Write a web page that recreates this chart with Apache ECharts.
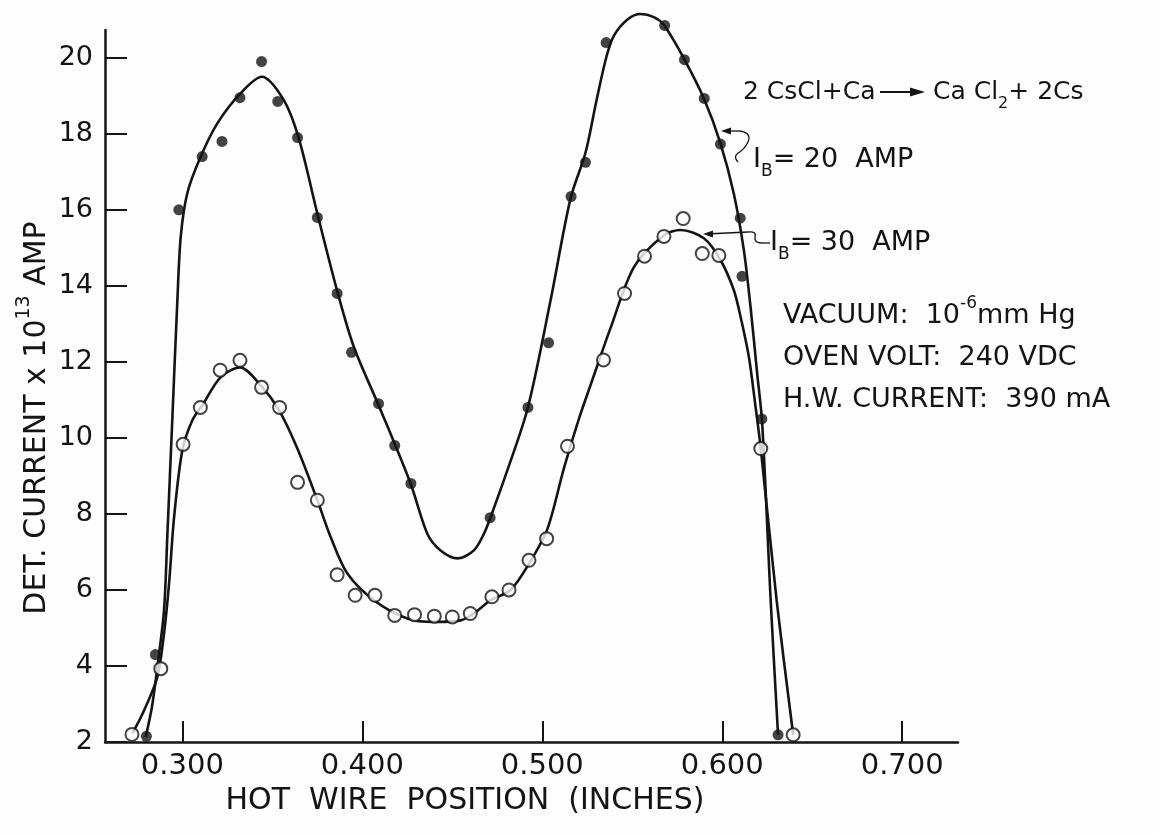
<!DOCTYPE html>
<html><head><meta charset="utf-8">
<script src="https://cdn.jsdelivr.net/npm/echarts@6/dist/echarts.min.js"></script>
<style>html,body{margin:0;padding:0;background:#fdfdfd}#c{width:1159px;height:835px}</style>
</head><body><div id="c"></div>
<script>
// ---- data ----
const xTicks = [0.3, 0.4, 0.5, 0.6, 0.7];
const yTicks = [2, 4, 6, 8, 10, 12, 14, 16, 18, 20];

// I_B = 20 AMP measured points (filled dots)
const dots20 = [[0.280,2.15],[0.285,4.3],[0.298,16.0],[0.311,17.4],[0.322,17.8],[0.332,18.95],[0.344,19.9],[0.353,18.85],[0.364,17.9],[0.375,15.8],[0.386,13.8],[0.394,12.25],[0.409,10.9],[0.418,9.8],[0.427,8.8],[0.471,7.9],[0.492,10.8],[0.5035,12.5],[0.516,16.35],[0.524,17.25],[0.5355,20.4],[0.568,20.85],[0.579,19.95],[0.590,18.93],[0.599,17.73],[0.610,15.78],[0.611,14.25],[0.622,10.5],[0.631,2.19]];

// I_B = 30 AMP measured points (open circles)
const dots30 = [[0.272,2.2],[0.288,3.93],[0.3004,9.83],[0.310,10.8],[0.321,11.78],[0.332,12.04],[0.344,11.33],[0.354,10.8],[0.364,8.83],[0.375,8.36],[0.386,6.4],[0.396,5.86],[0.407,5.86],[0.418,5.33],[0.429,5.35],[0.440,5.31],[0.450,5.29],[0.460,5.38],[0.472,5.82],[0.4815,6.0],[0.4926,6.78],[0.5024,7.35],[0.514,9.78],[0.534,12.05],[0.5457,13.8],[0.5568,14.78],[0.5676,15.3],[0.5783,15.77],[0.5889,14.85],[0.5981,14.8],[0.6214,9.72],[0.6394,2.19]];

// hand-drawn fitted curves (traced)
const curve20 = [[0.2796,2.13],[0.2830,2.9],[0.2861,3.97],[0.2898,5.47],[0.2917,7.5],[0.2945,10.6],[0.2972,13.6],[0.2991,15.3],[0.3028,16.45],[0.3102,17.4],[0.3195,18.28],[0.3324,19.07],[0.3441,19.5],[0.3563,18.89],[0.3647,17.88],[0.375,15.9],[0.3861,13.85],[0.3953,12.39],[0.4102,10.73],[0.4268,8.8],[0.4361,7.48],[0.4435,7.04],[0.4530,6.83],[0.462,7.04],[0.4676,7.48],[0.4713,7.92],[0.4806,9.15],[0.492,10.8],[0.5046,13.62],[0.5157,16.3],[0.524,17.5],[0.530,18.85],[0.5355,20.0],[0.5398,20.58],[0.5472,21.0],[0.5546,21.15],[0.562,21.07],[0.5676,20.86],[0.5787,19.98],[0.5898,18.93],[0.599,17.75],[0.6064,16.43],[0.612,14.94],[0.6157,13.45],[0.6194,11.7],[0.6222,10.38],[0.6269,5.73],[0.631,2.19]];

const curve30 = [[0.2722,2.22],[0.2787,2.83],[0.2861,3.71],[0.2898,4.85],[0.2926,6.17],[0.2954,7.92],[0.3,9.68],[0.3056,10.47],[0.3111,10.86],[0.3213,11.6],[0.332,11.85],[0.3439,11.36],[0.3537,10.73],[0.3639,9.72],[0.375,8.36],[0.3824,7.39],[0.3917,6.43],[0.4064,5.73],[0.425,5.25],[0.4398,5.16],[0.4546,5.2],[0.462,5.38],[0.4713,5.73],[0.4824,6.0],[0.4926,6.69],[0.5028,7.6],[0.512,9.2],[0.520,10.45],[0.528,11.55],[0.538,12.9],[0.551,14.5],[0.5676,15.33],[0.5768,15.47],[0.5898,15.25],[0.599,14.68],[0.6064,13.89],[0.6102,13.18],[0.6148,12.13],[0.6185,10.82],[0.6214,9.72],[0.6302,5.73],[0.6394,2.19]];

// ---- chart ----
const F = 'DejaVu Sans';
const ink = '#141414';
const bg = '#fdfdfd';
const chart = echarts.init(document.getElementById('c'));

const txt = (x, y, text, size, extra) => ({
  type: 'text', x: x, y: y, silent: true,
  style: Object.assign({text: text, fontFamily: F, fontSize: size, fill: ink, align: 'left', verticalAlign: 'middle'}, extra || {})
});
const supRich = (size) => ({
  a: {fontFamily: F, fontSize: size, fill: ink, lineHeight: size + 14},
  s: {fontFamily: F, fontSize: Math.round(size * 0.62), fill: ink, lineHeight: Math.round(size * 0.62), verticalAlign: 'top'},
  b: {fontFamily: F, fontSize: Math.round(size * 0.62), fill: ink, lineHeight: Math.round(size * 0.62), verticalAlign: 'bottom'}
});
const seg = (x1, y1, x2, y2) => ({type: 'line', silent: true, shape: {x1, y1, x2, y2}, style: {stroke: ink, lineWidth: 1.3}});
const qb = (x1, y1, cx, cy, x2, y2) => ({type: 'bezierCurve', silent: true, shape: {x1, y1, cpx1: cx, cpy1: cy, x2, y2}, style: {stroke: ink, lineWidth: 1.3, fill: null}});

chart.setOption({
  backgroundColor: bg,
  animation: false,
  grid: {left: 105, right: 201, top: 30, bottom: 93},
  xAxis: {
    type: 'value', min: 0.257, max: 0.731,
    axisLine: {show: true, onZero: false, lineStyle: {color: ink, width: 2.5}},
    axisTick: {show: true, inside: true, length: 21, lineStyle: {color: ink, width: 2}, customValues: xTicks},
    axisLabel: {customValues: xTicks, formatter: v => v.toFixed(3), fontFamily: F, fontSize: 29, color: ink, margin: 10},
    splitLine: {show: false}
  },
  yAxis: {
    type: 'value', min: 2, max: 20.73,
    axisLine: {show: true, onZero: false, lineStyle: {color: ink, width: 2.5}},
    axisTick: {show: true, inside: true, length: 22, lineStyle: {color: ink, width: 2}, customValues: yTicks},
    axisLabel: {customValues: yTicks, fontFamily: F, fontSize: 27, color: ink, margin: 12},
    splitLine: {show: false}
  },
  series: [
    {type: 'line', data: curve20, smooth: 0.3, symbol: 'none', clip: false, lineStyle: {color: ink, width: 2.6}, z: 2},
    {type: 'line', data: curve30, smooth: 0.3, symbol: 'none', clip: false, lineStyle: {color: ink, width: 2.6}, z: 2},
    {type: 'scatter', data: dots20, symbol: 'circle', symbolSize: 11, clip: false, itemStyle: {color: ink}, z: 3},
    {type: 'scatter', data: dots30, symbol: 'circle', symbolSize: 13, clip: false, itemStyle: {color: bg, borderColor: ink, borderWidth: 2}, z: 4}
  ],
  graphic: [
    txt(465, 801, 'HOT  WIRE  POSITION  (INCHES)', 30, {align: 'center'}),
    {type: 'text', x: 37, y: 418, rotation: Math.PI / 2, silent: true,
     style: {text: '{a|DET. CURRENT x 10}{s|13}{a| AMP}', rich: supRich(30), align: 'center', verticalAlign: 'middle'}},
    txt(743, 92, '2 CsCl+Ca', 25),
    {type: 'line', silent: true, shape: {x1: 880, y1: 92, x2: 914, y2: 92}, style: {stroke: ink, lineWidth: 2}},
    {type: 'polygon', silent: true, shape: {points: [[910, 87.5], [925, 92], [910, 96.5]]}, style: {fill: ink}},
    {type: 'text', x: 933, y: 92, silent: true, style: {text: '{a|Ca Cl}{b|2}{a|+ 2Cs}', rich: supRich(25), align: 'left', verticalAlign: 'middle'}},
    {type: 'text', x: 753, y: 160, silent: true, style: {text: '{a|I}{b|B}{a|= 20  AMP}', rich: supRich(27), align: 'left', verticalAlign: 'middle'}},
    {type: 'text', x: 770, y: 243, silent: true, style: {text: '{a|I}{b|B}{a|= 30  AMP}', rich: supRich(27), align: 'left', verticalAlign: 'middle'}},
    {type: 'text', x: 783, y: 316, silent: true, style: {text: '{a|VACUUM:  10}{s|-6}{a|mm Hg}', rich: supRich(27), align: 'left', verticalAlign: 'middle'}},
    txt(783, 358, 'OVEN VOLT:  240 VDC', 27),
    txt(783, 400, 'H.W. CURRENT:  390 mA', 27),
    // leader squiggles
    seg(724, 131, 740, 131), qb(740, 131, 752, 133, 748, 142), qb(748, 142, 744, 150, 738, 153), qb(738, 153, 733, 157, 738, 162),
    {type: 'polygon', silent: true, shape: {points: [[721, 131], [731, 127.5], [731, 134.5]]}, style: {fill: ink}},
    seg(706, 234, 748, 232), qb(748, 232, 757, 231, 755, 237), qb(755, 237, 754, 243, 762, 243), seg(762, 243, 770, 243),
    {type: 'polygon', silent: true, shape: {points: [[703, 234], [713, 230.5], [713, 237.5]]}, style: {fill: ink}}
  ]
});
</script></body></html>
